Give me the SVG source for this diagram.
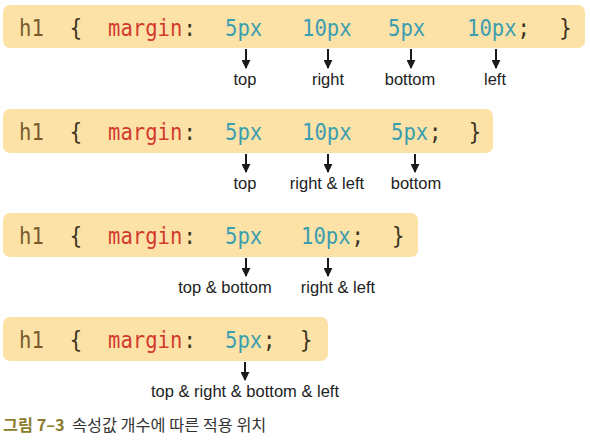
<svg xmlns="http://www.w3.org/2000/svg" width="590" height="442" viewBox="0 0 590 442">
<defs>
<style>
.box{fill:#FCE2A7}
.code{font-family:"DejaVu Sans Mono","Liberation Mono",monospace;font-size:20.6px}
.sel{fill:#7B5B2E}
.dk{fill:#3B3322}
.prop{fill:#D23A2E}
.val{fill:#3A9DB0}
.lbl{font-family:"Liberation Sans",Arial,sans-serif;font-size:16.5px;fill:#222;text-anchor:middle}
.ln{stroke:#1a1a1a;stroke-width:2;fill:none}
.cap{font-family:"Noto Sans CJK KR","Noto Sans",sans-serif;font-size:16.3px}
</style>
<marker id="ah" viewBox="0 0 10 10" refX="9" refY="5" markerWidth="4.5" markerHeight="4.5" orient="auto" markerUnits="strokeWidth">
<path d="M0,0 L10,5 L0,10 Z" fill="#1a1a1a"/>
</marker>
</defs>
<rect width="590" height="442" fill="#ffffff"/>

<g id="row1">
<rect class="box" x="3" y="5" width="582" height="43" rx="7"/>
<g transform="translate(0,36) scale(1,1.12)">
<text class="code sel" x="19" y="0">h1</text>
<text class="code dk" x="69.8" y="0">{</text>
<text class="code prop" x="108" y="0">margin</text>
<text class="code dk" x="183.5" y="0">:</text>
<text class="code val" x="225" y="0">5px</text>
<text class="code val" x="302" y="0">10px</text>
<text class="code val" x="388" y="0">5px</text>
<text class="code val" x="467" y="0">10px</text>
<text class="code dk" x="517.5" y="0">;</text>
<text class="code dk" x="559.3" y="0">}</text>
</g>
<text class="lbl" x="245" y="85">top</text>
<text class="lbl" x="328" y="85">right</text>
<text class="lbl" x="410" y="85">bottom</text>
<text class="lbl" x="495" y="85">left</text>
</g>

<g id="row2">
<rect class="box" x="3" y="109" width="490" height="44" rx="7"/>
<g transform="translate(0,140) scale(1,1.12)">
<text class="code sel" x="19" y="0">h1</text>
<text class="code dk" x="69.8" y="0">{</text>
<text class="code prop" x="108" y="0">margin</text>
<text class="code dk" x="183.5" y="0">:</text>
<text class="code val" x="225" y="0">5px</text>
<text class="code val" x="302" y="0">10px</text>
<text class="code val" x="391" y="0">5px</text>
<text class="code dk" x="429" y="0">;</text>
<text class="code dk" x="468.8" y="0">}</text>
</g>
<text class="lbl" x="245" y="189">top</text>
<text class="lbl" x="327" y="189">right &amp; left</text>
<text class="lbl" x="416" y="189">bottom</text>
</g>

<g id="row3">
<rect class="box" x="3" y="213" width="415" height="44" rx="7"/>
<g transform="translate(0,244) scale(1,1.12)">
<text class="code sel" x="19" y="0">h1</text>
<text class="code dk" x="69.8" y="0">{</text>
<text class="code prop" x="108" y="0">margin</text>
<text class="code dk" x="183.5" y="0">:</text>
<text class="code val" x="225" y="0">5px</text>
<text class="code val" x="301" y="0">10px</text>
<text class="code dk" x="351.5" y="0">;</text>
<text class="code dk" x="392" y="0">}</text>
</g>
<text class="lbl" x="225" y="293">top &amp; bottom</text>
<text class="lbl" x="338" y="293">right &amp; left</text>
</g>

<g id="row4">
<rect class="box" x="3" y="317" width="325" height="44" rx="7"/>
<g transform="translate(0,348) scale(1,1.12)">
<text class="code sel" x="19" y="0">h1</text>
<text class="code dk" x="69.8" y="0">{</text>
<text class="code prop" x="108" y="0">margin</text>
<text class="code dk" x="183.5" y="0">:</text>
<text class="code val" x="225" y="0">5px</text>
<text class="code dk" x="263" y="0">;</text>
<text class="code dk" x="300" y="0">}</text>
</g>
<text class="lbl" x="245" y="397">top &amp; right &amp; bottom &amp; left</text>
</g>

<g id="connectors">
<line class="ln" x1="246" y1="49" x2="246" y2="68" marker-end="url(#ah)"/>
<line class="ln" x1="328" y1="49" x2="328" y2="68" marker-end="url(#ah)"/>
<line class="ln" x1="411" y1="49" x2="411" y2="68" marker-end="url(#ah)"/>
<line class="ln" x1="496" y1="49" x2="496" y2="68" marker-end="url(#ah)"/>
<line class="ln" x1="246" y1="154" x2="246" y2="172" marker-end="url(#ah)"/>
<line class="ln" x1="328" y1="154" x2="328" y2="172" marker-end="url(#ah)"/>
<line class="ln" x1="415" y1="154" x2="415" y2="172" marker-end="url(#ah)"/>
<line class="ln" x1="246" y1="258" x2="246" y2="276" marker-end="url(#ah)"/>
<line class="ln" x1="328" y1="258" x2="328" y2="276" marker-end="url(#ah)"/>
<line class="ln" x1="245" y1="362" x2="245" y2="380" marker-end="url(#ah)"/>
</g>

<g id="caption">
<text class="cap" x="3" y="431" fill="#8C7B2B" font-weight="bold">그림 7–3</text>
<text class="cap" x="72" y="431" fill="#333333" font-size="15.8">속성값 개수에 따른 적용 위치</text>
</g>
</svg>
